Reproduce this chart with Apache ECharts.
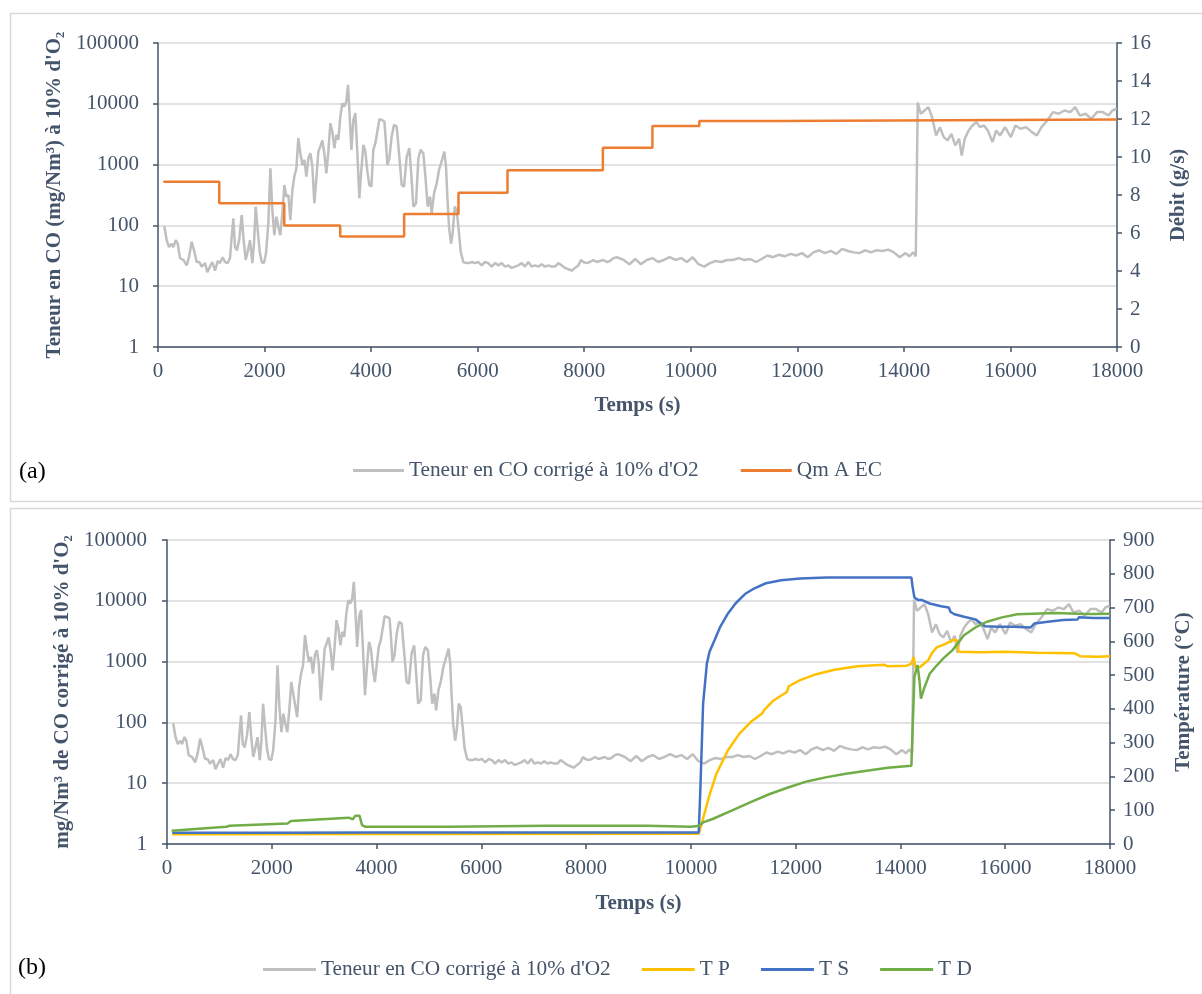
<!DOCTYPE html>
<html><head><meta charset="utf-8">
<script src="https://cdn.jsdelivr.net/npm/echarts@6/dist/echarts.min.js"></script>
<style>html,body{margin:0;padding:0;background:#fff}#c{width:1202px;height:994px}</style>
</head><body><div id="c"></div>
<script>
// ---- data ----
const coTime = [119,163,207,257,288,332,370,413,476,538,582,632,682,726,776,820,883,926,976,1020,1070,1120,1164,1214,1258,1308,1352,1383,1414,1446,1483,1527,1571,1608,1646,1683,1727,1771,1802,1834,1871,1909,1946,1990,2027,2071,2109,2146,2184,2221,2259,2296,2334,2372,2409,2447,2484,2522,2559,2597,2634,2672,2710,2747,2785,2822,2860,2897,2935,2972,3010,3047,3085,3122,3160,3197,3235,3272,3310,3347,3385,3423,3460,3498,3535,3567,3598,3630,3667,3704,3742,3779,3817,3855,3892,3930,3967,4005,4042,4080,4117,4155,4199,4249,4275,4305,4342,4386,4430,4480,4524,4574,4618,4668,4718,4761,4793,4843,4887,4930,4980,5024,5062,5106,5137,5181,5231,5275,5312,5343,5375,5406,5431,5462,5500,5531,5569,5606,5644,5681,5731,5781,5831,5888,5950,6013,6075,6138,6200,6263,6326,6388,6451,6513,6576,6638,6701,6763,6826,6888,6951,7014,7076,7139,7201,7264,7326,7389,7452,7514,7577,7640,7702,7765,7827,7890,7940,7984,8046,8109,8171,8234,8297,8359,8422,8484,8547,8610,8633,8741,8849,8957,9065,9173,9280,9388,9496,9604,9712,9820,9928,10036,10144,10252,10360,10468,10575,10683,10791,10899,11007,11115,11223,11331,11439,11547,11655,11762,11870,11978,12086,12194,12302,12410,12518,12626,12734,12842,12949,13057,13165,13273,13381,13489,13597,13705,13813,13921,14029,14101,14173,14223,14260,14316,14388,14460,14532,14604,14676,14748,14820,14892,14964,15036,15086,15143,15215,15287,15359,15431,15503,15575,15662,15733,15805,15899,16007,16093,16187,16295,16403,16496,16582,16690,16798,16906,17014,17122,17215,17302,17410,17518,17626,17733,17841,17913,17993];
const coValue = [97,57,44,50,44,57,50,29,27,22,30,54,37,25,25,21,24,17,21,25,18,26,24,30,25,24,29,65,130,44,39,61,148,57,27,37,57,24,50,203,84,37,25,24,35,108,870,179,69,139,95,69,158,462,297,316,122,382,634,870,2718,1538,988,1195,634,1270,1538,927,231,596,1637,1980,2490,1538,720,1637,4800,3500,1860,3080,2550,6180,10250,9030,10900,20560,6180,1745,5445,7010,1538,279,817,2109,1637,767,462,434,1745,2250,2400,5580,5445,5120,2550,990,1270,2900,4510,4230,1538,462,434,1355,1860,558,203,231,1270,1745,1538,558,203,297,158,337,492,817,1050,990,1637,927,297,95,50,74,203,179,84,37,25,24,24,25,24,25,22,25,24,21,24,22,24,21,22,20,21,22,24,21,25,21,22,21,23,21,22,21,21,24,22,20,19,18,20,22,27,25,24,25,27,25,26,27,25,26,29,30,31,27,23,28,23,27,29,25,27,30,27,29,25,30,23,21,24,26,25,27,27,29,27,28,25,28,32,30,33,31,34,32,35,30,36,39,35,38,34,41,38,36,35,39,36,39,38,40,36,30,35,31,36,31,10500,6850,7770,8810,5890,3010,4130,2830,2500,3210,2070,2660,1415,2660,3650,4400,5000,4130,4400,3650,2340,3650,3010,4130,2830,4400,3880,4130,3420,3010,4130,5320,7300,6850,7770,7300,8810,6430,6850,5670,7300,7300,6430,7770,8280];

const qmTime  = [100,1150,2370,3420,4620,5640,6560,8350,9280,10160,11670,18000];
const qmValue = [8.7,7.56,6.39,5.81,7.0,8.12,9.3,10.49,11.63,11.89,11.98,11.98];

const tpTime  = [100,10150,10196,10342,10487,10705,10923,11141,11359,11396,11578,11832,11868,12086,12377,12740,13177,13686,13758,14122,14209,14253,14282,14377,14535,14600,14693,14851,15009,15072,15110,15503,16012,16594,17317,17430,17757,18000];
const tpValue = [29,30,54,138,208,277,326,361,386,396,425,450,467,485,502,516,526,531,526,528,534,554,524,524,545,565,582,592,604,604,569,568,569,566,565,556,554,556];

const tsTime  = [100,2000,4000,6000,8000,10000,10150,10182,10233,10305,10356,10451,10560,10705,10851,11032,11214,11432,11723,12086,12595,13322,14209,14231,14267,14340,14413,14558,14776,14922,14958,15031,15213,15431,15540,15612,15867,16158,16485,16558,16812,17103,17379,17408,17685,18000];
const tsValue = [33,33,34,34,34,34,34,168,415,534,569,603,643,682,712,740,757,772,781,786,789,789,789,762,730,722,722,712,704,700,687,680,673,665,653,645,643,643,641,653,658,663,665,671,669,669];

const tdTime  = [89,1132,1195,2301,2364,3471,3547,3598,3674,3724,3787,5368,7265,9161,10000,10160,10233,10414,10778,11141,11505,11868,12232,12595,12959,13322,13759,14209,14238,14267,14326,14362,14391,14450,14558,14667,14813,14994,15213,15431,15649,15940,16231,16521,16958,17379,17685,18000];
const tdValue = [39,51,54,61,68,78,73,84,84,56,51,51,54,54,51,54,64,74,99,124,148,168,186,198,208,216,226,232,366,495,530,485,430,460,504,524,549,574,618,641,658,671,680,682,684,682,681,682];

const coName = "Teneur en CO corrigé à 10% d'O2";
const seriesNamesA = [coName, 'Qm A EC'];
const seriesNamesB = [coName, 'T P', 'T S', 'T D'];

// ---- chart ----
const zip = (a, b) => a.map((t, i) => [t, b[i]]);
const FONT = 'Liberation Serif';
const TXT = '#44546A';
const lab = (m) => ({fontFamily: FONT, fontSize: 21, color: TXT, margin: m, formatter: v => String(Math.round(v))});
const axLine = {show: true, onZero: false, lineStyle: {color: TXT, width: 1.5}};
const tick = {show: true, length: 5, lineStyle: {color: TXT, width: 1.5}};
const nameStyle = {fontFamily: FONT, fontSize: 21, fontWeight: 'bold', color: TXT};
const grid = {color: '#D9D9D9', width: 1.5};

function xAx(gi, gap) {
  return {type: 'value', gridIndex: gi, min: 0, max: 18000, interval: 2000,
    axisLine: axLine, axisTick: tick, axisLabel: lab(14), splitLine: {show: false},
    name: 'Temps (s)', nameLocation: 'middle', nameGap: gap, nameTextStyle: nameStyle};
}
function logAx(gi, name, gap, m) {
  return {type: 'log', gridIndex: gi, logBase: 10, min: 1, max: 100000, position: 'left',
    axisLine: axLine, axisTick: tick, axisLabel: lab(m),
    splitLine: {show: true, lineStyle: grid},
    name: name, nameLocation: 'middle', nameGap: gap, nameRotate: 90, nameTextStyle: nameStyle};
}
function rAx(gi, max, iv, name, gap) {
  return {type: 'value', gridIndex: gi, min: 0, max: max, interval: iv, position: 'right',
    axisLine: axLine, axisTick: tick, axisLabel: lab(13), splitLine: {show: false},
    name: name, nameLocation: 'middle', nameGap: gap, nameRotate: 90, nameTextStyle: nameStyle};
}
const line = (name, data, xi, yi, color, extra) => Object.assign({
  type: 'line', name, data, xAxisIndex: xi, yAxisIndex: yi, showSymbol: false, symbol: 'none',
  lineStyle: {color, width: 2.5}, itemStyle: {color}, animation: false, silent: true
}, extra || {});

const legendBase = {icon: 'rect', itemHeight: 3,
  textStyle: {fontFamily: FONT, fontSize: 21.3, color: TXT}, selectedMode: false};

const chart = echarts.init(document.getElementById('c'), null, {renderer: 'canvas'});
chart.setOption({
  backgroundColor: '#fff',
  animation: false,
  grid: [
    {left: 158, top: 43, width: 959, height: 304},
    {left: 167, top: 540, width: 949, height: 304}
  ],
  xAxis: [xAx(0, 48), xAx(1, 49)],
  yAxis: [
    logAx(0, "Teneur en CO (mg/Nm³) à 10% d'O₂", 90, 19),
    rAx(0, 16, 2, 'Débit (g/s)', 51),
    logAx(1, "mg/Nm³ de CO corrigé à 10% d'O₂", 94, 20),
    rAx(1, 900, 100, 'Température (°C)', 63)
  ],
  legend: [
    Object.assign({}, legendBase, {data: seriesNamesA, left: 348, top: 455, itemWidth: 51, itemGap: 42}),
    Object.assign({}, legendBase, {data: seriesNamesB, left: 258, top: 954, itemWidth: 53, itemGap: 31})
  ],
  graphic: [
    {type: 'rect', shape: {x: 10.5, y: 13.5, width: 1200, height: 488}, style: {fill: 'none', stroke: '#D9D9D9', lineWidth: 1.5}},
    {type: 'rect', shape: {x: 10.5, y: 508.5, width: 1200, height: 500}, style: {fill: 'none', stroke: '#D9D9D9', lineWidth: 1.5}},
    {type: 'text', left: 19, top: 460, style: {text: '(a)', font: '24px "Liberation Serif"', fill: '#000'}},
    {type: 'text', left: 18, top: 956, style: {text: '(b)', font: '24px "Liberation Serif"', fill: '#000'}}
  ],
  series: [
    line(coName, zip(coTime, coValue), 0, 0, '#BFBFBF'),
    line('Qm A EC', zip(qmTime, qmValue), 0, 1, '#ED7D31', {step: 'end'}),
    line(coName, zip(coTime, coValue), 1, 2, '#BFBFBF'),
    line('T P', zip(tpTime, tpValue), 1, 3, '#FFC000'),
    line('T S', zip(tsTime, tsValue), 1, 3, '#4472C4'),
    line('T D', zip(tdTime, tdValue), 1, 3, '#70AD47')
  ]
});
</script></body></html>
